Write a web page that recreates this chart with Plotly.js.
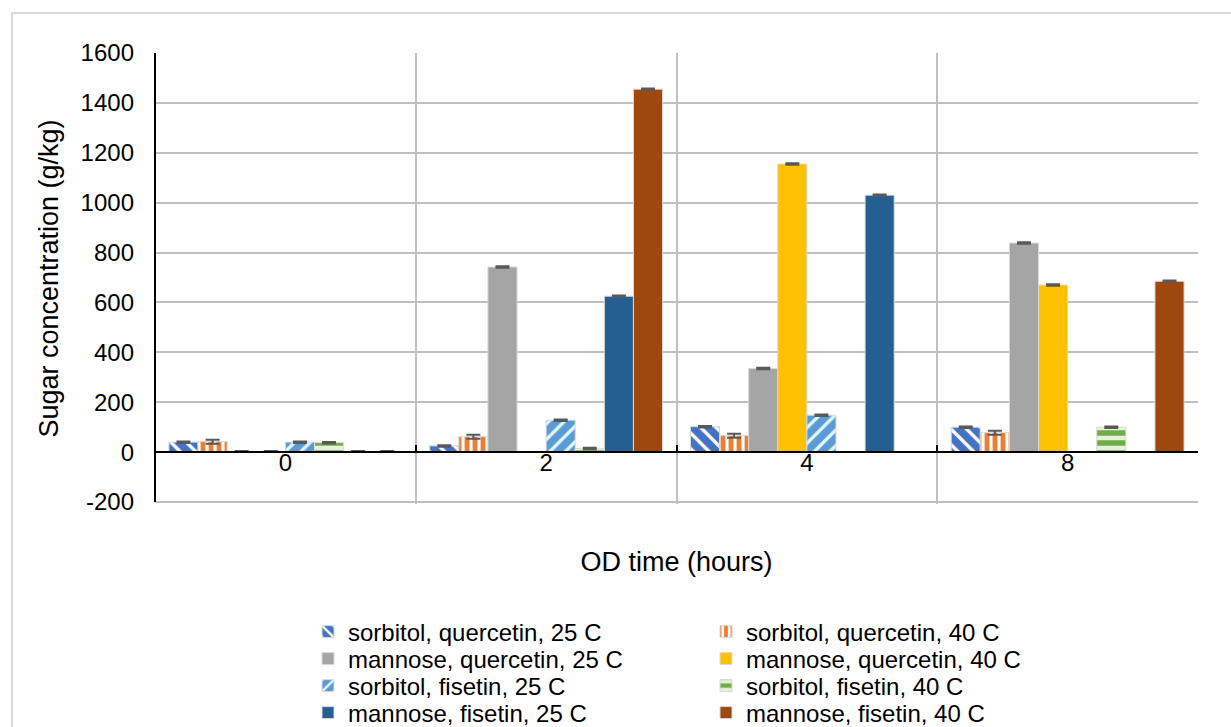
<!DOCTYPE html>
<html>
<head>
<meta charset="utf-8">
<script src="https://cdn.plot.ly/plotly-3.0.1.min.js"></script>
<style>
  html, body { margin: 0; padding: 0; overflow: hidden; background: #ffffff; }
  #chart { width: 1231px; height: 780px; position: absolute; left: 0; top: 0; }
  #frame { position: absolute; left: 11px; top: 12px; width: 1400px; height: 900px;
           border: 2px solid #d9d9d9; pointer-events: none; }
</style>
</head>
<body>
<div id="chart"></div>
<div id="frame"></div>
<script>
// Categories (OD time, hours)
const categories = ['0', '2', '4', '8'];

// Y axis ticks
const yTickVals = [-200, 0, 200, 400, 600, 800, 1000, 1200, 1400, 1600];
const yTickLabels = ['-200', '0', '200', '400', '600', '800', '1000', '1200', '1400', '1600'];

// Series names
const seriesNames = [
  'sorbitol, quercetin, 25 C',
  'sorbitol, quercetin, 40 C',
  'mannose, quercetin, 25 C',
  'mannose, quercetin, 40 C',
  'sorbitol, fisetin, 25 C',
  'sorbitol, fisetin, 40 C',
  'mannose, fisetin, 25 C',
  'mannose, fisetin, 40 C'
];

// Sugar concentration values (g/kg)
const sorbQuer25 = [40, 25, 102, 100];
const sorbQuer40 = [42, 62, 66, 78];
const manQuer25  = [2, 742, 335, 838];
const manQuer40  = [2, 0, 1155, 670];
const sorbFis25  = [40, 128, 148, 0];
const sorbFis40  = [38, 14, 0, 100];
const manFis25   = [2, 625, 1030, 0];
const manFis40   = [2, 1455, 0, 685];

// Error (standard deviation) values
const errSorbQuer25 = [3, 3, 3, 3];
const errSorbQuer40 = [8, 8, 8, 8];
const errManQuer25  = [2, 3, 3, 3];
const errManQuer40  = [2, 0, 3, 3];
const errSorbFis25  = [3, 3, 3, 0];
const errSorbFis40  = [3, 3, 0, 3];
const errManFis25   = [2, 3, 3, 0];
const errManFis40   = [2, 3, 0, 3];

const seriesValues = [sorbQuer25, sorbQuer40, manQuer25, manQuer40, sorbFis25, sorbFis40, manFis25, manFis40];
const seriesErrors = [errSorbQuer25, errSorbQuer40, errManQuer25, errManQuer40, errSorbFis25, errSorbFis40, errManFis25, errManFis40];

const styles = [
  { color: '#4472C4', pattern: { shape: '\\', bgcolor: '#4472C4', fgcolor: '#ffffff', size: 11, solidity: 0.3, fillmode: 'replace' } },
  { color: '#ED7D31', pattern: { shape: '|', bgcolor: '#ED7D31', fgcolor: '#ffffff', size: 8, solidity: 0.4, fillmode: 'replace' } },
  { color: '#A5A5A5' },
  { color: '#FFC000' },
  { color: '#5B9BD5', pattern: { shape: '/', bgcolor: '#5B9BD5', fgcolor: '#dff6ff', size: 11, solidity: 0.3, fillmode: 'replace' } },
  { color: '#70AD47', pattern: { shape: '-', bgcolor: '#70AD47', fgcolor: '#e6f2dd', size: 10, solidity: 0.45, fillmode: 'replace' } },
  { color: '#255E91' },
  { color: '#9E480E' }
];

const font = 'Liberation Sans, Arial, sans-serif';

const traces = seriesNames.map((name, i) => {
  const marker = { color: styles[i].color, line: { color: '#d9d9d9', width: 1 } };
  if (styles[i].pattern) marker.pattern = styles[i].pattern;
  return {
    type: 'bar',
    name: name,
    x: categories,
    y: seriesValues[i],
    marker: marker,
    error_y: { type: 'data', array: seriesErrors[i], visible: true, color: '#595959', thickness: 2, width: 7 },
    legend: i === 0 ? 'legend' : 'legend' + (i + 1),
    hoverinfo: 'x+y+name'
  };
});

// Plot area in pixels: left 155, right 1198, top 53, bottom 504 (range padded slightly below -200)
const FULL_H = 780;
const L = 155, R = 1198, T = 53, B = 504;
const W = R - L, H = B - T;
const Y_MIN = -208, Y_MAX = 1600;
const legendTextX = [348, 746];
const legendRowY = [632, 659, 686, 713];

const layout = {
  width: 1231,
  height: FULL_H,
  margin: { l: L, r: 1231 - R, t: T, b: FULL_H - B, pad: 0 },
  paper_bgcolor: 'rgba(0,0,0,0)',
  plot_bgcolor: '#ffffff',
  font: { family: font, color: '#000000', size: 24 },
  barmode: 'group',
  bargap: 0.107,
  bargroupgap: 0,
  showlegend: true,
  xaxis: {
    type: 'category',
    categoryorder: 'array',
    categoryarray: categories,
    tickson: 'boundaries',
    showgrid: true,
    gridcolor: '#c0c0c0',
    gridwidth: 2,
    anchor: 'free',
    position: (0 - Y_MIN) / (Y_MAX - Y_MIN),
    showline: true,
    linecolor: '#000000',
    linewidth: 2,
    ticks: 'inside',
    ticklen: 6,
    tickwidth: 2,
    tickcolor: '#000000',
    ticklabelstandoff: -11,
    tickfont: { family: font, size: 24, color: '#000000' },
    title: { text: 'OD time (hours)', font: { family: font, size: 27, color: '#000000' }, standoff: 76 },
    automargin: false,
    fixedrange: true
  },
  yaxis: {
    range: [Y_MIN, Y_MAX],
    tickmode: 'array',
    tickvals: yTickVals,
    ticktext: yTickLabels,
    showgrid: true,
    gridcolor: '#c0c0c0',
    gridwidth: 2,
    zeroline: true,
    zerolinecolor: '#000000',
    zerolinewidth: 2,
    showline: false,
    ticks: '',
    ticklabelstandoff: 20,
    tickfont: { family: font, size: 24, color: '#000000' },
    title: { text: 'Sugar concentration (g/kg)', font: { family: font, size: 27, color: '#000000' }, standoff: 14 },
    automargin: false,
    fixedrange: true
  },
  shapes: [
    // y axis line from the top of the plot down to the -200 gridline
    { type: 'line', xref: 'paper', yref: 'y', x0: 0, x1: 0, y0: yTickVals[0], y1: Y_MAX,
      line: { color: '#000000', width: 2 }, layer: 'above' }
  ]
};

seriesNames.forEach((name, i) => {
  const col = i % 2, row = Math.floor(i / 2);
  const key = i === 0 ? 'legend' : 'legend' + (i + 1);
  layout[key] = {
    x: (legendTextX[col] - 40 - L) / W,
    y: (B - legendRowY[row]) / H,
    xanchor: 'left',
    yanchor: 'middle',
    bgcolor: 'rgba(0,0,0,0)',
    borderwidth: 0,
    font: { family: font, size: 24, color: '#000000' },
    orientation: 'v'
  };
});

Plotly.newPlot('chart', traces, layout, { displayModeBar: false, staticPlot: true });
</script>
</body>
</html>
